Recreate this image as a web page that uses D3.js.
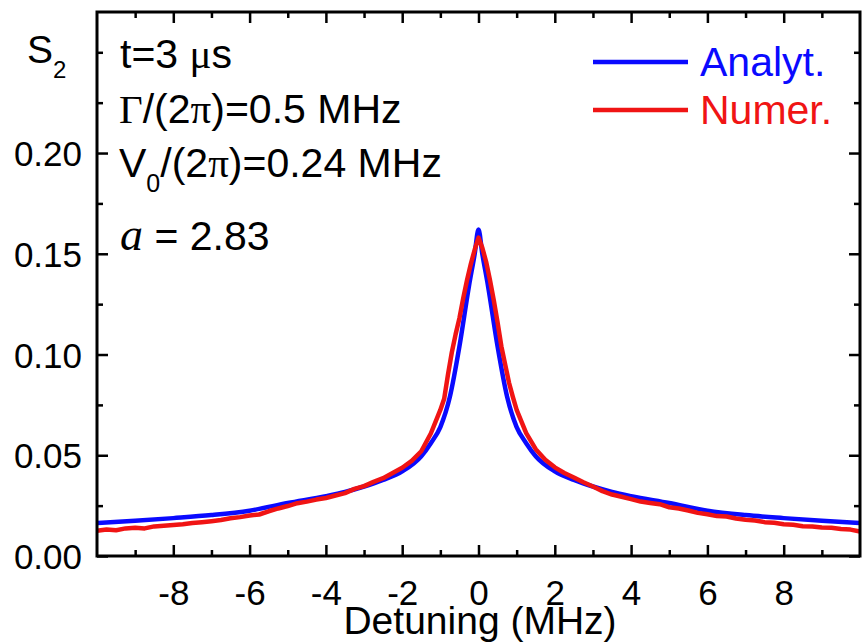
<!DOCTYPE html>
<html>
<head>
<meta charset="utf-8">
<script src="https://cdn.jsdelivr.net/npm/d3@7"></script>
<style>
  body { margin: 0; background: #fff; }
  text { font-family: "Liberation Sans", Arial, sans-serif; }
</style>
</head>
<body>
<div id="viz"></div>
<script>
//-------Data-------------------------------
var analytX = [-10, -9, -8, -7, -6, -5, -4, -3.5, -3, -2.5, -2, -1.5, -1.25, -1, -0.75, -0.5, -0.25, -0.1, 0,
               0.1, 0.25, 0.5, 0.75, 1, 1.25, 1.5, 2, 2.5, 3, 3.5, 4, 5, 6, 7, 8, 9, 10];
var analytY = [0.0164, 0.0175, 0.0188, 0.0203, 0.0225, 0.0263, 0.0297, 0.0318, 0.0345, 0.0378, 0.0420, 0.0495, 0.0560, 0.0640, 0.0790, 0.1040, 0.1340, 0.1500, 0.1620,
               0.1500, 0.1340, 0.1040, 0.0790, 0.0640, 0.0560, 0.0495, 0.0420, 0.0378, 0.0345, 0.0318, 0.0297, 0.0263, 0.0225, 0.0203, 0.0188, 0.0175, 0.0164];

var numerX = [-10, -9.75, -9.5, -9.25, -9, -8.75, -8.5, -8.25, -8, -7.75, -7.5, -7.25, -7, -6.75, -6.5, -6.25, -6,
              -5.75, -5.5, -5.25, -5, -4.75, -4.5, -4.25, -4, -3.75, -3.5, -3.25, -3, -2.75, -2.5, -2.25, -2, -1.75,
              -1.5, -1.25, -1, -0.9, -0.8, -0.7, -0.6, -0.5, -0.4, -0.3, -0.2, -0.1, 0,
              0.1, 0.2, 0.3, 0.4, 0.5, 0.6, 0.7, 0.8, 0.9, 1, 1.25, 1.5, 1.75, 2, 2.25, 2.5, 2.75, 3, 3.25, 3.5, 3.75,
              4, 4.25, 4.5, 4.75, 5, 5.25, 5.5, 5.75, 6, 6.25, 6.5, 6.75, 7, 7.25, 7.5, 7.75, 8, 8.25, 8.5, 8.75,
              9, 9.25, 9.5, 9.75, 10];
var numerY = [0.0125, 0.0131, 0.0128, 0.0137, 0.0140, 0.0137, 0.0147, 0.0150, 0.0154, 0.0158, 0.0164, 0.0168, 0.0173, 0.0179, 0.0187, 0.0193, 0.0201,
              0.0206, 0.0222, 0.0236, 0.0248, 0.0262, 0.0270, 0.0280, 0.0288, 0.0300, 0.0312, 0.0333, 0.0347, 0.0368, 0.0386, 0.0412, 0.0438, 0.0472,
              0.0520, 0.0608, 0.0725, 0.0780, 0.0900, 0.1010, 0.1100, 0.1180, 0.1280, 0.1370, 0.1450, 0.1520, 0.1580,
              0.1530, 0.1460, 0.1370, 0.1270, 0.1160, 0.1040, 0.0950, 0.0860, 0.0790, 0.0725, 0.0610, 0.0530, 0.0478, 0.0440, 0.0412, 0.0390, 0.0366, 0.0345, 0.0322, 0.0305, 0.0294,
              0.0282, 0.0270, 0.0263, 0.0257, 0.0242, 0.0236, 0.0226, 0.0214, 0.0207, 0.0198, 0.0196, 0.0186, 0.0180, 0.0176, 0.0168, 0.0165, 0.0158, 0.0155, 0.0148, 0.0146,
              0.0141, 0.0140, 0.0134, 0.0131, 0.0122];

var xMajor = [-8, -6, -4, -2, 0, 2, 4, 6, 8];
var xMinor = [-9, -7, -5, -3, -1, 1, 3, 5, 7, 9];
var yMajor = [0, 0.05, 0.10, 0.15, 0.20];
var yMinor = [0.025, 0.075, 0.125, 0.175, 0.225, 0.25];

var analyt = analytX.map(function(x, i) { return [x, analytY[i]]; });
var numer = numerX.map(function(x, i) { return [x, numerY[i]]; });

//---------------------------------
var width = 863,
    height = 642;
var plotLeft = 97, plotRight = 860, plotTop = 12, plotBottom = 556;

var svg = d3.select("#viz")
  .append("svg")
    .attr("width", width)
    .attr("height", height);

var xScale = d3.scaleLinear().domain([-10, 10]).range([plotLeft, plotRight]);
var yScale = d3.scaleLinear().domain([0, 0.27]).range([plotBottom, plotTop]);

//------Curves--------------------
var line = d3.line()
    .x(function(d) { return xScale(d[0]); })
    .y(function(d) { return yScale(d[1]); });

svg.append("path")
    .datum(analyt)
    .attr("d", line.curve(d3.curveMonotoneX))
    .style("fill", "none")
    .style("stroke", "#0a0aff")
    .style("stroke-width", 4.5);

svg.append("path")
    .datum(numer)
    .attr("d", line.curve(d3.curveLinear))
    .style("fill", "none")
    .style("stroke", "#f01414")
    .style("stroke-width", 4.5)
    .style("stroke-linejoin", "round");

//------Axes (ticks point inward)-----------
function axisGroup(axis, tx, ty) {
  var g = svg.append("g")
      .attr("transform", "translate(" + tx + "," + ty + ")")
      .call(axis);
  g.select(".domain").remove();
  g.selectAll("line").style("stroke", "#000").style("stroke-width", 2.5);
  return g;
}

var xb = axisGroup(d3.axisBottom(xScale).tickValues(xMajor).tickSize(-11).tickPadding(24)
    .tickFormat(function(d) { return d; }), 0, plotBottom);
axisGroup(d3.axisBottom(xScale).tickValues(xMinor).tickSize(-6).tickFormat(""), 0, plotBottom);
axisGroup(d3.axisTop(xScale).tickValues(xMajor).tickSize(-11).tickFormat(""), 0, plotTop);
axisGroup(d3.axisTop(xScale).tickValues(xMinor).tickSize(-6).tickFormat(""), 0, plotTop);

var yl = axisGroup(d3.axisLeft(yScale).tickValues(yMajor).tickSize(-11).tickPadding(15)
    .tickFormat(d3.format(".2f")), plotLeft, 0);
axisGroup(d3.axisLeft(yScale).tickValues(yMinor).tickSize(-6).tickFormat(""), plotLeft, 0);
axisGroup(d3.axisRight(yScale).tickValues(yMajor).tickSize(-11).tickFormat(""), plotRight, 0);
axisGroup(d3.axisRight(yScale).tickValues(yMinor).tickSize(-6).tickFormat(""), plotRight, 0);

xb.selectAll("text").style("font-size", "35px").style("fill", "#000")
    .attr("dy", "0.71em");
yl.selectAll("text").style("font-size", "35px").style("fill", "#000")
    .attr("dy", "0.36em");

// frame
svg.append("rect")
    .attr("x", plotLeft)
    .attr("y", plotTop)
    .attr("width", plotRight - plotLeft)
    .attr("height", plotBottom - plotTop)
    .style("fill", "none")
    .style("stroke", "#000")
    .style("stroke-width", 3);

//------Labels--------------------
svg.append("text")
    .attr("x", 480)
    .attr("y", 634)
    .attr("text-anchor", "middle")
    .style("font-size", "39px")
    .text("Detuning (MHz)");

var s2 = svg.append("text").attr("x", 27).attr("y", 63).style("font-size", "39px");
s2.append("tspan").text("S");
s2.append("tspan").attr("dy", 15).style("font-size", "24px").text("2");

var serif = '"Liberation Serif", "Times New Roman", serif';

var t1 = svg.append("text").attr("x", 120).attr("y", 68).style("font-size", "41px");
t1.append("tspan").text("t=3 ");
t1.append("tspan").style("font-family", serif).text("\u03bc");
t1.append("tspan").text("s");

var t2 = svg.append("text").attr("x", 119).attr("y", 123).style("font-size", "41px");
t2.append("tspan").style("font-family", serif).text("\u0393");
t2.append("tspan").text("/(2");
t2.append("tspan").style("font-family", serif).text("\u03c0");
t2.append("tspan").text(")=0.5 MHz");

var t3 = svg.append("text").attr("x", 119).attr("y", 177).style("font-size", "41px");
t3.append("tspan").text("V");
t3.append("tspan").attr("dy", 15).style("font-size", "25px").text("0");
t3.append("tspan").attr("dy", -15).text("/(2");
t3.append("tspan").style("font-family", serif).text("\u03c0");
t3.append("tspan").text(")=0.24 MHz");

var t4 = svg.append("text").attr("x", 120).attr("y", 250).style("font-size", "41px");
t4.append("tspan").style("font-family", serif).style("font-style", "italic").style("font-size", "46px").text("a");
t4.append("tspan").text(" = 2.83");

//------Legend--------------------
var legendNames = ["Analyt.", "Numer."];
var legendColors = ["#0a0aff", "#f01414"];
legendNames.forEach(function(name, i) {
  var y = 62 + i * 48;
  svg.append("line")
      .attr("x1", 593).attr("x2", 688)
      .attr("y1", y).attr("y2", y)
      .style("stroke", legendColors[i])
      .style("stroke-width", 4.5);
  svg.append("text")
      .attr("x", 700)
      .attr("y", y + 14)
      .style("font-size", "41px")
      .style("fill", legendColors[i])
      .text(name);
});
</script>
</body>
</html>
